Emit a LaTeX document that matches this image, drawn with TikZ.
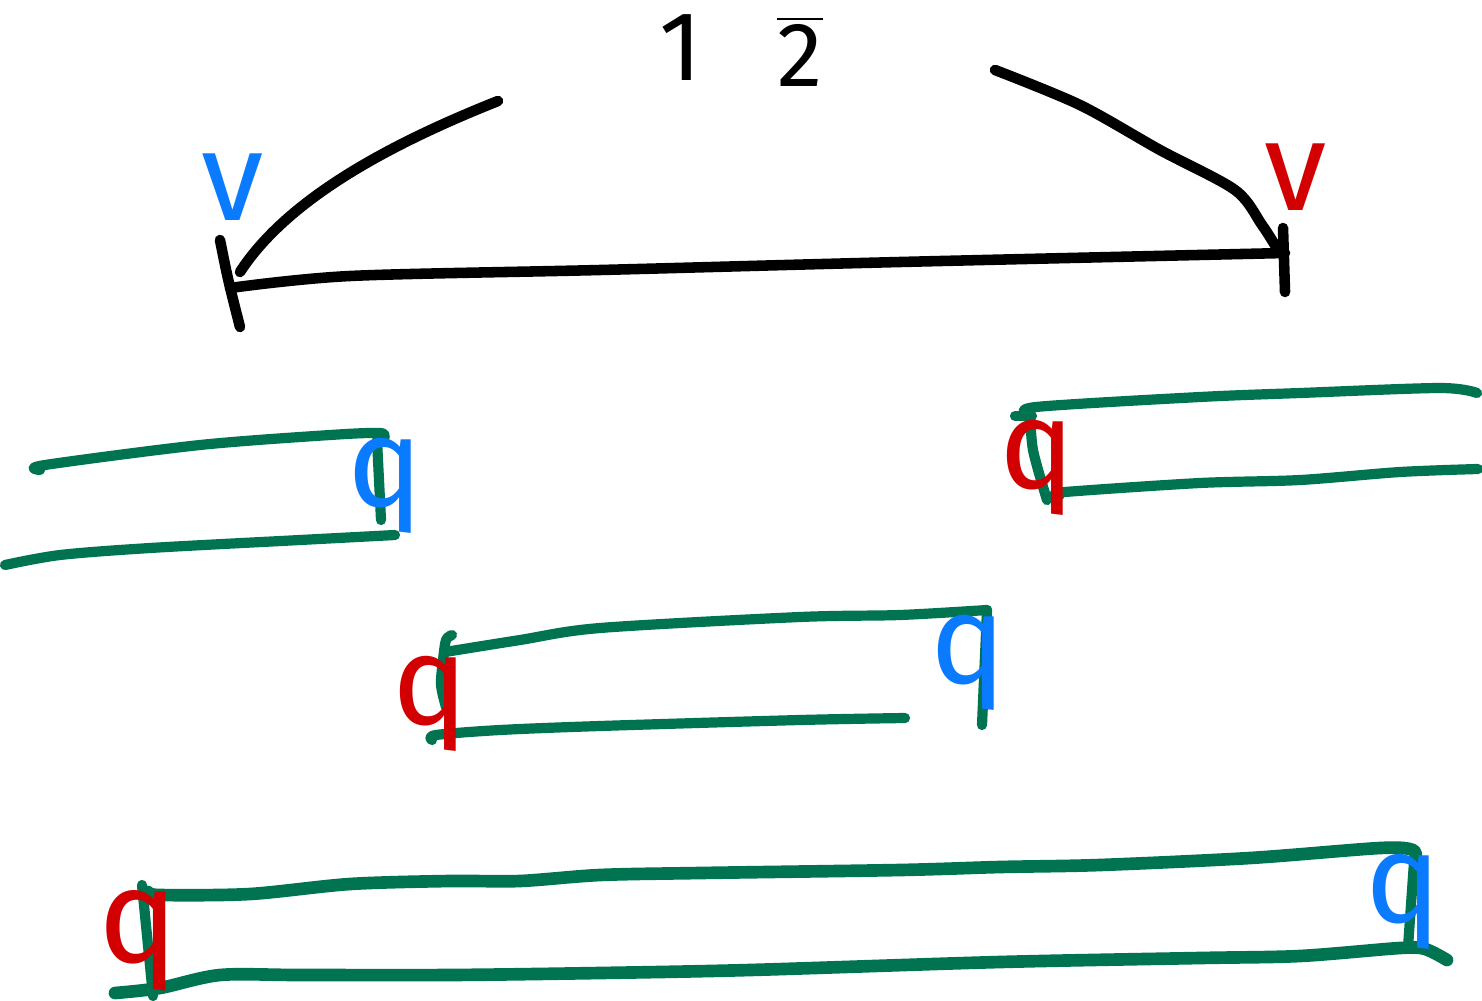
\documentclass[tikz,border=0pt]{standalone}
\usepackage{fontspec}
\setsansfont{Fira Sans}
\definecolor{vert}{RGB}{0,115,80}
\definecolor{bleu}{RGB}{10,122,255}
\definecolor{rouge}{RGB}{210,0,0}

\begin{document}
\begin{tikzpicture}[x=0.01cm, y=-0.01cm, line cap=round, line join=round,
    trait/.style={line width=3pt, black},
    barre/.style={line width=2.9pt, vert},
    lettre/.style={inner sep=0pt, anchor=base, font=\sffamily\fontsize{36}{36}\selectfont}]
    \useasboundingbox (0,0) rectangle (1482,1000);

    % --- Titre en haut ---
    \node[lettre, font=\sffamily\fontsize{28}{28}\selectfont] (un) at (681,80) {1};
    \node[lettre, font=\sffamily\fontsize{26}{26}\selectfont] (deux) at (800,86) {$\overline{\mbox{2}}$};

    % --- Extremites du segment ---
    \coordinate (gH) at (220,240);
    \coordinate (gB) at (240,327);
    \coordinate (dH) at (1283,228);
    \coordinate (dB) at (1285,292);
    \coordinate (gM) at (230,288);
    \coordinate (dM) at (1285,253);

    % Segment principal et ses bornes
    \draw[trait] plot[smooth] coordinates {(gM) (350,276) (600,270) (900,262) (dM)};
    \draw[trait] (gH) .. controls (228,280) .. (gB);
    \draw[trait] (dH) -- (dB);

    % Fleches courbes depuis le titre
    \coordinate (fG) at (498,101);
    \coordinate (fD) at (995,70);
    \draw[trait] (fG) .. controls (400,140) and (290,195) .. (240,272);
    \draw[trait] plot[smooth] coordinates {(fD) (1080,105) (1160,150) (1235,190) (1262,225) (1278,250)};

    % Lettres v
    \node[lettre, bleu] (vG) at (233,220) {v};
    \node[lettre, rouge] (vD) at (1296,210) {v};

    % ==============================================================
    % BARRE A : en haut a gauche
    % ==============================================================
    \draw[barre] plot[smooth] coordinates {(40,470) (45,465) (200,445) (330,435) (380,433) (384,438)};
    \draw[barre] (377,440) -- (381,520);
    \draw[barre] plot[smooth] coordinates {(5,565) (60,555) (150,548) (300,540) (395,535)};
    \node[lettre, bleu] (qA) at (385,506) {q};

    % ==============================================================
    % BARRE B : en haut a droite
    % ==============================================================
    \draw[barre] plot[smooth] coordinates {(1030,415) (1036,407) (1200,397) (1300,393) (1440,388) (1477,393)};
    \draw[barre] (1015,416) -- (1032,416);
    \draw[barre] plot[smooth] coordinates {(1030,410) (1033,450) (1047,500)};
    \draw[barre] plot[smooth] coordinates {(1060,495) (1065,492) (1200,483) (1300,480) (1400,472) (1478,469)};
    \node[lettre, rouge] (qB) at (1037,488) {q};

    % ==============================================================
    % BARRE C : au milieu
    % ==============================================================
    \draw[barre] plot[smooth] coordinates {(445,652) (520,640) (600,628) (800,617) (900,615) (987,610)};
    \draw[barre] (987,610) -- (982,725);
    \draw[barre] plot[smooth] coordinates {(452,635) (446,640) (443,660) (441,685) (446,707)};
    \draw[barre] plot[smooth] coordinates {(432,740) (436,735) (500,730) (600,726) (800,720) (905,718)};
    \node[lettre, rouge] (qC1) at (430,724) {q};
    \node[lettre, bleu] (qC2) at (968,683) {q};

    % ==============================================================
    % BARRE D : en bas, la plus longue
    % ==============================================================
    \draw[barre, line width=3.6pt] plot[smooth] coordinates {(148,892) (160,895) (250,894) (350,884) (450,881) (520,881) (600,875) (700,873) (900,870) (1000,867) (1100,865) (1250,858) (1380,848) (1413,850) (1415,860)};
    \draw[barre] (1414,862) -- (1408,947);
    \draw[barre] (142,885) -- (153,996);
    \draw[barre, line width=3.6pt] plot[smooth] coordinates {(115,993) (160,988) (220,975) (300,975) (450,975) (600,973) (750,970) (1000,962) (1200,958) (1300,956) (1400,948) (1425,949) (1447,960)};
    \node[lettre, rouge, font=\sffamily\fontsize{38}{38}\selectfont] (qD1) at (138,962) {q};
    \node[lettre, bleu] (qD2) at (1403,922) {q};

\end{tikzpicture}
\end{document}
